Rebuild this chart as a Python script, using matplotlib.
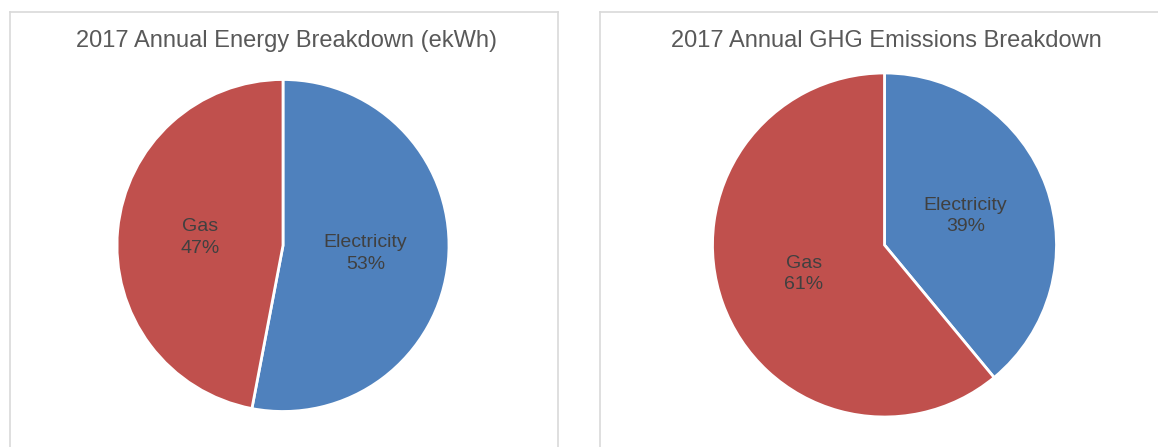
import matplotlib
matplotlib.use("Agg")
import matplotlib.pyplot as plt
from matplotlib.lines import Line2D

W, H = 1158, 447
plt.rcParams['font.family'] = ['Liberation Sans', 'DejaVu Sans']

categories = ["Electricity", "Gas"]
energy_pct = [53, 47]
ghg_pct = [39, 61]
titles = ["2017 Annual Energy Breakdown (ekWh)", "2017 Annual GHG Emissions Breakdown"]
colors = ["#4F81BD", "#C0504D"]

fig = plt.figure(figsize=(W / 100, H / 100), dpi=100)
fig.patch.set_facecolor("white")

border = "#D9D9D9"
def px_line(x0, y0, x1, y1):
    fig.add_artist(Line2D([x0 / W, x1 / W], [1 - y0 / H, 1 - y1 / H],
                          transform=fig.transFigure, color=border, lw=1.2))

# left panel border
px_line(10, 12, 558, 12)
px_line(10, 12, 10, 447)
px_line(558, 12, 558, 447)
# right panel border
px_line(600, 12, 1158, 12)
px_line(600, 12, 600, 447)

panels = [
    (energy_pct, titles[0], 283, 245.5, 166, 286),
    (ghg_pct, titles[1], 884.5, 245, 172, 886),
]

for vals, title, cx, cy, r, tx in panels:
    ax = fig.add_axes([(cx - r) / W, (H - cy - r) / H, 2 * r / W, 2 * r / H])
    names = iter(categories)
    wedges, texts, autotexts = ax.pie(
        vals, colors=colors, startangle=90, counterclock=False,
        wedgeprops=dict(edgecolor="white", linewidth=2),
        autopct=lambda p: f"{next(names)}\n{p:.0f}%", pctdistance=0.5,
        textprops=dict(color="#404040", fontsize=14, linespacing=1.35))
    ax.set_xlim(-1, 1)
    ax.set_ylim(-1, 1)
    ax.set_aspect("equal")
    ax.axis("off")
    fig.text(tx / W, 1 - 41 / H, title, ha="center", va="center",
             fontsize=17, color="#595959")

fig.savefig("out.png", dpi=100)
